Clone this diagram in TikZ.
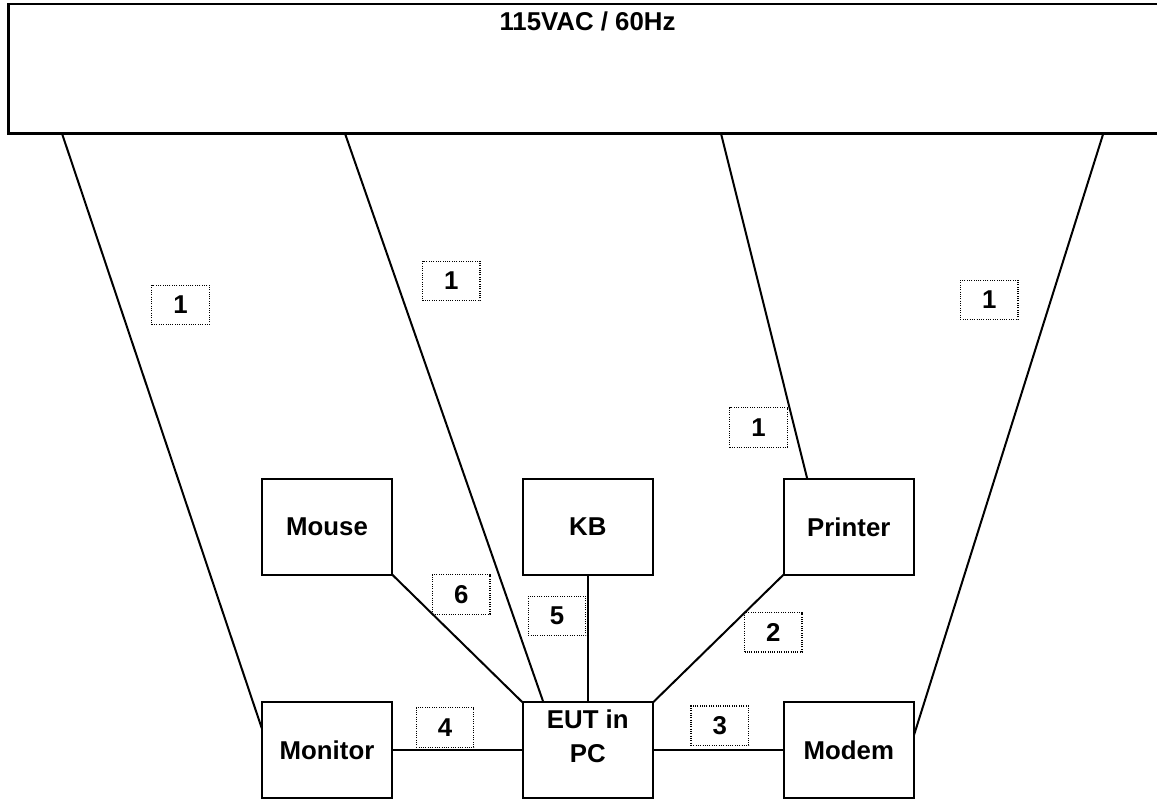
\documentclass[tikz,border=0pt]{standalone}
\usepackage{fontspec}
\setmainfont{Liberation Sans}
\usetikzlibrary{calc}
\begin{document}
\begin{tikzpicture}[x=0.5pt,y=-0.5pt,
  every node/.style={font=\fontsize{12.9pt}{17pt}\selectfont\bfseries, inner sep=0pt, outer sep=0pt},
  devbox/.style={draw, line width=1pt, minimum width=65.3pt, minimum height=47.7pt},
  numbox/.style={draw, line width=0.65pt, dash pattern=on 0.5pt off 0.65pt, minimum width=28.75pt, minimum height=19.7pt},
  wire/.style={line width=1pt}]
\useasboundingbox (0,0) rectangle (1157,799);
\fill[white] (0,0) rectangle (1157,799);
% mains box
\node[draw, line width=1.1pt, minimum width=583pt, minimum height=64.75pt, anchor=north west] (mains) at (8.5,4) {};
\node (title) at (587.5,21.5) {115VAC / 60Hz};
\coordinate (p1) at (62,133.5);
\coordinate (p2) at (345,133.5);
\coordinate (p3) at (721,133.5);
\coordinate (p4) at (1103.3,133.5);
% devices
\node[devbox] (mouse) at (327,527) {Mouse};
\node[devbox] (kb) at (587.8,527) {KB};
\node[devbox] (printer) at (848.8,527) {Printer};
\node[devbox] (mon) at (327,750) {Monitor};
\node[devbox] (eut) at (587.8,750) {};
\node[align=center] (euttext) at (587.8,736) {EUT in\\PC};
\node[devbox] (modem) at (848.8,750) {Modem};
% power cords
\draw[wire] (p1) -- ($(mon.north west)!0.27!(mon.south west)$);
\draw[wire] (p2) -- ($(eut.north west)!0.16!(eut.north east)$);
\draw[wire] (p3) -- ($(printer.north west)!0.183!(printer.north east)$);
\draw[wire] (p4) -- ($(modem.north east)!0.34!(modem.south east)$);
% signal cables
\draw[wire] (mouse.south east) -- (eut.north west);
\draw[wire] (kb.south) -- (eut.north);
\draw[wire] (printer.south west) -- (eut.north east);
\draw[wire] (mon.east) -- (eut.west);
\draw[wire] (eut.east) -- (modem.west);
% cable numbers
\node[numbox] (n1a) at (180.5,305) {1};
\node[numbox] (n1b) at (451.3,281) {1};
\node[numbox] (n1c) at (989.2,300) {1};
\node[numbox] (n1d) at (758.5,427.5) {1};
\node[numbox] (n6) at (461.2,594.5) {6};
\node[numbox] (n5) at (557,616) {5};
\node[numbox] (n4) at (445,727.5) {4};
\node[numbox] (n2) at (773.3,632.3) {2};
\node[numbox] (n3) at (719.8,725.7) {3};
\end{tikzpicture}
\end{document}
